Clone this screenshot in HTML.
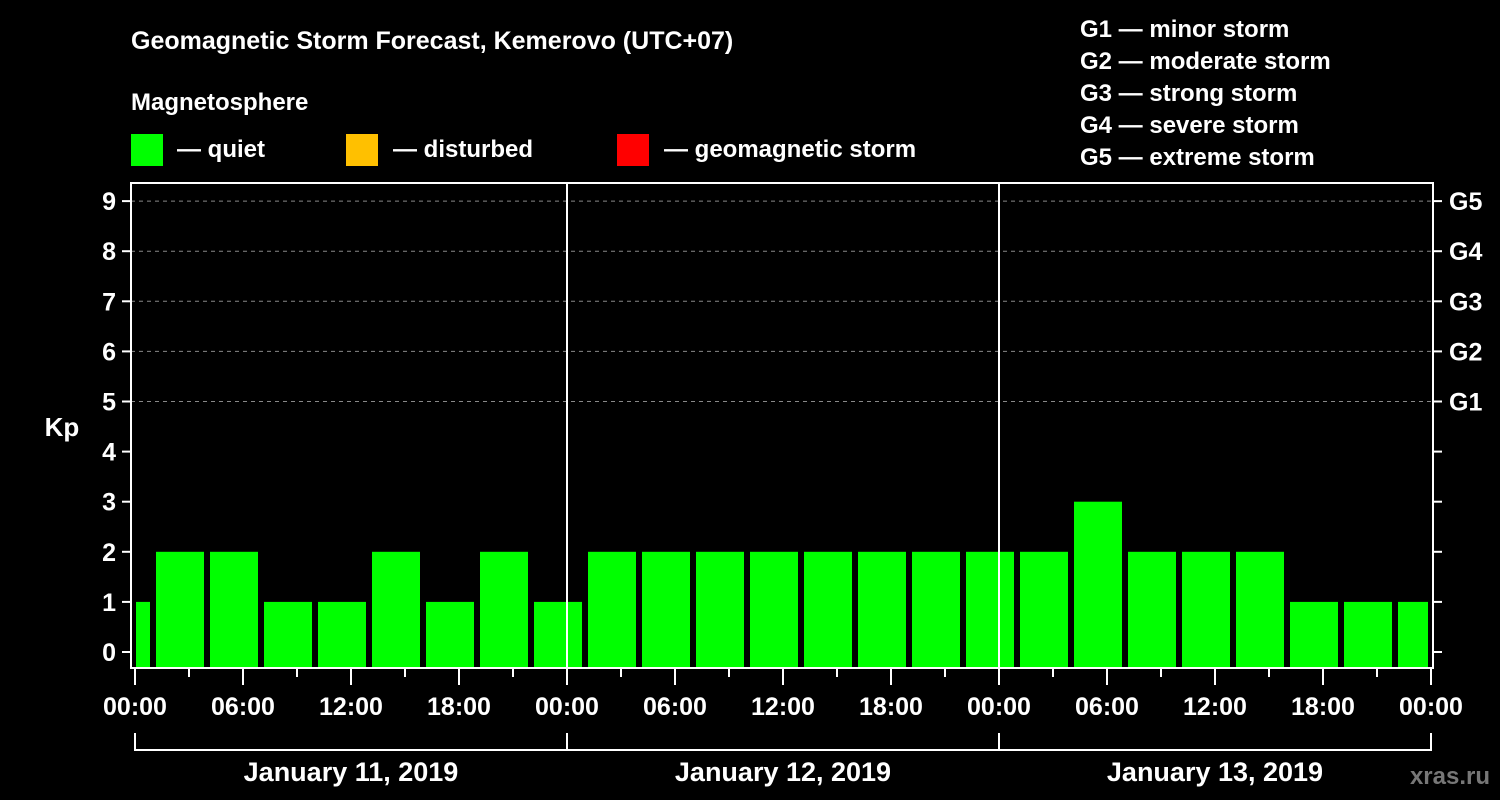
<!DOCTYPE html>
<html><head><meta charset="utf-8"><style>
body{margin:0;background:#000;}
svg{display:block;font-family:"Liberation Sans",sans-serif;font-weight:bold;}
</style></head><body>
<svg id="c" width="1500" height="800" viewBox="0 0 1500 800">
<rect x="0" y="0" width="1500" height="800" fill="#000"/>
<text x="131" y="49" fill="#fff" font-size="25">Geomagnetic Storm Forecast, Kemerovo (UTC+07)</text>
<text x="131" y="110" fill="#fff" font-size="24">Magnetosphere</text>
<g><rect x="131" y="134" width="32" height="32" fill="#00ff00"/><text x="177" y="157" fill="#fff" font-size="24">— quiet</text></g>
<g><rect x="346" y="134" width="32" height="32" fill="#ffc000"/><text x="393" y="157" fill="#fff" font-size="24">— disturbed</text></g>
<g><rect x="617" y="134" width="32" height="32" fill="#ff0000"/><text x="664" y="157" fill="#fff" font-size="24">— geomagnetic storm</text></g>
<g fill="#fff" font-size="24">
<text x="1080" y="37">G1 — minor storm</text>
<text x="1080" y="69">G2 — moderate storm</text>
<text x="1080" y="101">G3 — strong storm</text>
<text x="1080" y="133">G4 — severe storm</text>
<text x="1080" y="165">G5 — extreme storm</text>
</g>
<text x="62" y="436" fill="#fff" font-size="26" text-anchor="middle">Kp</text>
<text x="1490" y="784" fill="#777" font-size="24" text-anchor="end">xras.ru</text>
<g id="plot"></g>
</svg>
<script>
const kpValues=[1,2,2,1,1,2,1,2,1,2,2,2,2,2,2,2,2,2,3,2,2,2,1,1,1];
const binStartHours=[-2,1,4,7,10,13,16,19,22,25,28,31,34,37,40,43,46,49,52,55,58,61,64,67,70];
const yTicks=[0,1,2,3,4,5,6,7,8,9];
const gLabels=["G1","G2","G3","G4","G5"];
const gLevels=[5,6,7,8,9];
const dayLabels=["January 11, 2019","January 12, 2019","January 13, 2019"];
const hourLabels=["00:00","06:00","12:00","18:00"];
const NS="http://www.w3.org/2000/svg";
const X0=135,PXH=18,L=131,R=1433,T=183,B=668;
const x=h=>X0+h*PXH;
const y=v=>652-50.1*v;
const plot=document.getElementById('plot');
function mk(tag,at,parent){const e=document.createElementNS(NS,tag);for(const k in at)e.setAttribute(k,at[k]);(parent||plot).appendChild(e);return e;}
// grid
gLevels.forEach(v=>{const l=mk('line',{x1:L,x2:R,y1:y(v),y2:y(v),stroke:'#888','stroke-dasharray':'4,4','stroke-width':1});

});
// bars
kpValues.forEach((v,i)=>{const s=Math.max(x(binStartHours[i])+3,X0+1),e=Math.min(x(binStartHours[i]+3)-3,x(72)-3);
const r=mk('rect',{x:s,y:y(v),width:e-s,height:B-1-y(v),fill:'#00ff00'});

});
// day separators
[1,2].forEach(d=>{const l=mk('line',{x1:x(24*d),x2:x(24*d),y1:T,y2:B,stroke:'#fff','stroke-width':2});

});
// frame
const f=mk('rect',{x:L,y:T,width:R-L,height:B-T,fill:'none',stroke:'#fff','stroke-width':2});


// y ticks
yTicks.forEach(v=>{mk('line',{x1:L-9,x2:L,y1:y(v),y2:y(v),stroke:'#fff','stroke-width':2});
mk('line',{x1:R,x2:R+9,y1:y(v),y2:y(v),stroke:'#fff','stroke-width':2});
const t=mk('text',{x:116,y:y(v)+9,fill:'#fff','font-size':25,'text-anchor':'end'});t.textContent=v;

});
gLabels.forEach((g,i)=>{const t=mk('text',{x:1449,y:y(gLevels[i])+9,fill:'#fff','font-size':25});t.textContent=g;

});
// x ticks
for(let h=0;h<=72;h+=3){const maj=h%6===0;mk('line',{x1:x(h),x2:x(h),y1:B,y2:B+(maj?17:9),stroke:'#fff','stroke-width':2});
if(maj){const t=mk('text',{x:x(h),y:715,fill:'#fff','font-size':25,'text-anchor':'middle'});t.textContent=hourLabels[(h%24)/6];

}}
// day brackets
mk('polyline',{points:`${x(0)},733 ${x(0)},750 ${x(72)},750 ${x(72)},733`,fill:'none',stroke:'#fff','stroke-width':2});
[1,2].forEach(d=>mk('line',{x1:x(24*d),x2:x(24*d),y1:733,y2:750,stroke:'#fff','stroke-width':2}));
dayLabels.forEach((d,i)=>{const t=mk('text',{x:x(24*i+12),y:781,fill:'#fff','font-size':27,'text-anchor':'middle'});t.textContent=d;

});
</script>
</body></html>
